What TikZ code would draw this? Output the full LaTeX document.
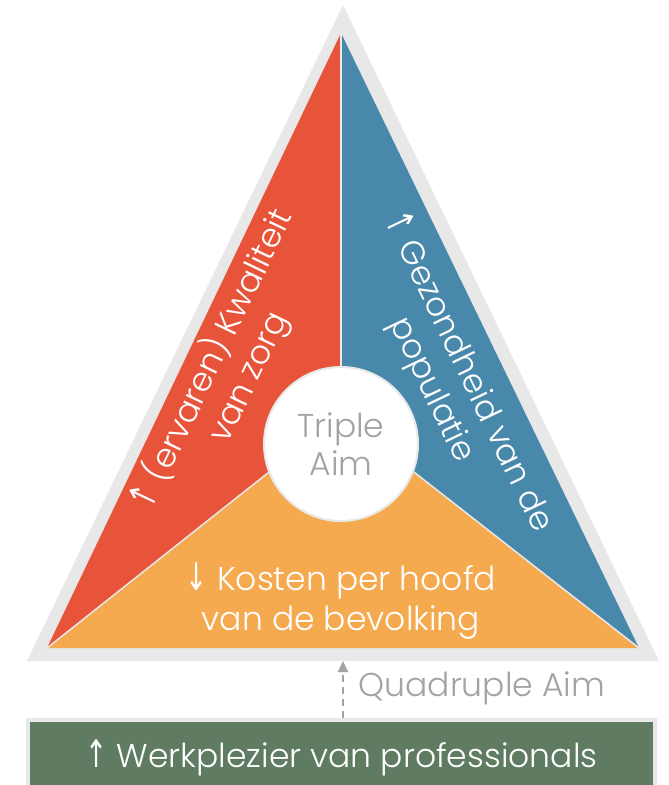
\documentclass[tikz,border=0pt]{standalone}
\usepackage{fontspec}
\setmainfont{Poppins Light}
\newfontfamily\arrowfont{DejaVu Sans}
\usetikzlibrary{positioning, calc, arrows.meta}

\definecolor{kwalred}{HTML}{E8543A}
\definecolor{gezblue}{HTML}{4888AB}
\definecolor{kostorange}{HTML}{F6AA50}
\definecolor{werkgreen}{HTML}{5F7C62}
\definecolor{rimgray}{HTML}{E8E8E8}
\definecolor{aimgray}{HTML}{A3A3A3}

\newcommand{\up}{{\arrowfont\scalebox{0.8}[1.15]{↑}}}
\newcommand{\down}{{\arrowfont\scalebox{0.8}[1.15]{↓}}}

\tikzset{
    sidetext/.style={text=white, align=center, font=\fontsize{33}{40}\selectfont},
    sepline/.style={draw=rimgray, line width=1.5},
}

\begin{document}
\begin{tikzpicture}[x=1pt, y=-1pt]
    \useasboundingbox (0,0) rectangle (669,785);
    % outer rim
    \coordinate (T) at (343,5);
    \coordinate (TL) at (27,661);
    \coordinate (TR) at (659,661);
    \fill[rimgray] (T) -- (TL) -- (TR) -- cycle;
    % three aims
    \coordinate (A) at (341,33);
    \coordinate (L) at (47,648);
    \coordinate (R) at (639,648);
    \coordinate (M) at (341,415);
    \fill[kwalred] (A) -- (M) -- (L) -- cycle;
    \fill[gezblue] (A) -- (R) -- (M) -- cycle;
    \fill[kostorange] (L) -- (M) -- (R) -- cycle;
    \draw[sepline] (A) -- (M);
    \draw[sepline] (L) -- (M) -- (R);
    \node[circle, fill=white, draw=rimgray, line width=2, minimum size=154, inner sep=0,
          text=aimgray, align=center, font=\fontsize{33}{38}\selectfont] (aim) at (341,444) {Triple\\Aim};
    \node[sidetext, rotate=64.4] (kwal) at (230,368) {\up\ (ervaren) Kwaliteit\\van zorg};
    \node[sidetext, rotate=-64.4] (gez) at (450,381) {\up\ Gezondheid van de\\populatie};
    \node[sidetext] (kost) at (341,601) {\down\ Kosten per hoofd\\van de bevolking};
    % quadruple
    \coordinate (base) at (343,661);
    \node[draw=rimgray, line width=4, fill=werkgreen, text=white, minimum width=627, minimum height=90,
          anchor=north, font=\fontsize{33}{40}\selectfont, text depth=22] (werk) at (341.5,718) {\up\ Werkplezier van professionals};
    \draw[aimgray, line width=2, dash pattern=on 7 off 5, -{Triangle[length=11, width=10]}] (werk.north -| base) -- (base);
    \node[text=aimgray, anchor=west, font=\fontsize{33}{40}\selectfont] (quad) at (355,688) {Quadruple Aim};
\end{tikzpicture}
\end{document}
